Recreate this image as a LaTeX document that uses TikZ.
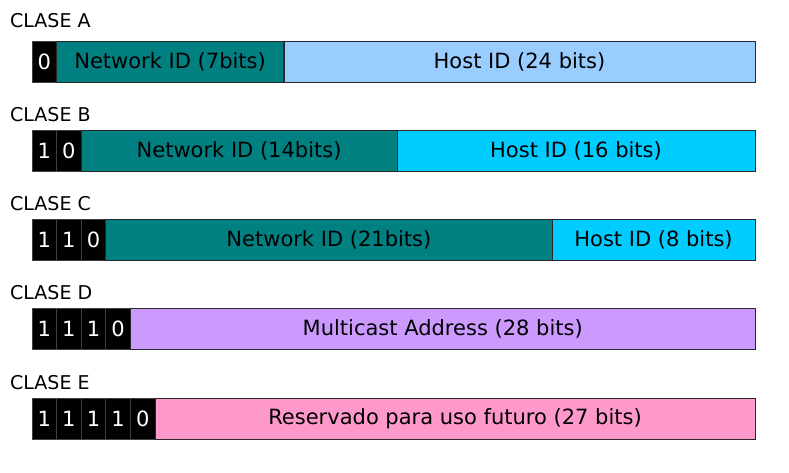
\documentclass[tikz,border=0pt]{standalone}
\usepackage{fontspec}
\setmainfont{DejaVu Sans}

\definecolor{netid}{RGB}{0,128,128}
\definecolor{hostA}{RGB}{153,204,255}
\definecolor{hostBC}{RGB}{0,204,255}
\definecolor{multicast}{RGB}{204,153,255}
\definecolor{reserved}{RGB}{255,153,204}
\definecolor{edge}{RGB}{40,40,40}

\tikzset{
  field/.style={draw=edge, line width=0.8pt, anchor=west, inner sep=0pt, outer sep=0pt,
    minimum height=41pt, font=\fontsize{21}{24}\selectfont, text=black},
  bitcell/.style={field, fill=black, draw=black!75!white, minimum width=24.6pt, text=white},
  classlabel/.style={anchor=base west, inner sep=0pt, font=\fontsize{19}{22}\selectfont}
}

\begin{document}
\begin{tikzpicture}[x=1pt, y=-1pt]
  \useasboundingbox (0,0) rectangle (789,472);

  % Clase A
  \node[classlabel] (labelA) at (10,27) {CLASE A};
  \node[bitcell] (bitA1) at (32,61.5) {0};
  \node[field, fill=netid, minimum width=227pt] (netA) at (56.6,61.5) {Network ID (7bits)};
  \node[field, fill=hostA, minimum width=471pt] (hostA) at (284,61.5) {Host ID (24 bits)};

  % Clase B
  \node[classlabel] (labelB) at (10,121) {CLASE B};
  \node[bitcell] (bitB1) at (32,150.5) {1};
  \node[bitcell] (bitB2) at (56.6,150.5) {0};
  \node[field, fill=netid, minimum width=315.8pt] (netB) at (81.2,150.5) {Network ID (14bits)};
  \node[field, fill=hostBC, minimum width=358pt] (hostB) at (397,150.5) {Host ID (16 bits)};

  % Clase C
  \node[classlabel] (labelC) at (10,210) {CLASE C};
  \node[bitcell] (bitC1) at (32,239.5) {1};
  \node[bitcell] (bitC2) at (56.6,239.5) {1};
  \node[bitcell] (bitC3) at (81.2,239.5) {0};
  \node[field, fill=netid, minimum width=446.2pt] (netC) at (105.8,239.5) {Network ID (21bits)};
  \node[field, fill=hostBC, minimum width=203pt] (hostC) at (552,239.5) {Host ID (8 bits)};

  % Clase D
  \node[classlabel] (labelD) at (10,299) {CLASE D};
  \foreach \i/\b in {1/1,2/1,3/1,4/0}
    \node[bitcell] (bitD\i) at ({32+24.6*(\i-1)},328.5) {\b};
  \node[field, fill=multicast, minimum width=624.6pt] (multiD) at (130.4,328.5) {Multicast Address (28 bits)};

  % Clase E
  \node[classlabel] (labelE) at (10,389) {CLASE E};
  \foreach \i/\b in {1/1,2/1,3/1,4/1,5/0}
    \node[bitcell] (bitE\i) at ({32+24.6*(\i-1)},418.5) {\b};
  \node[field, fill=reserved, minimum width=600pt] (resE) at (155,418.5) {Reservado para uso futuro (27 bits)};

\end{tikzpicture}
\end{document}
